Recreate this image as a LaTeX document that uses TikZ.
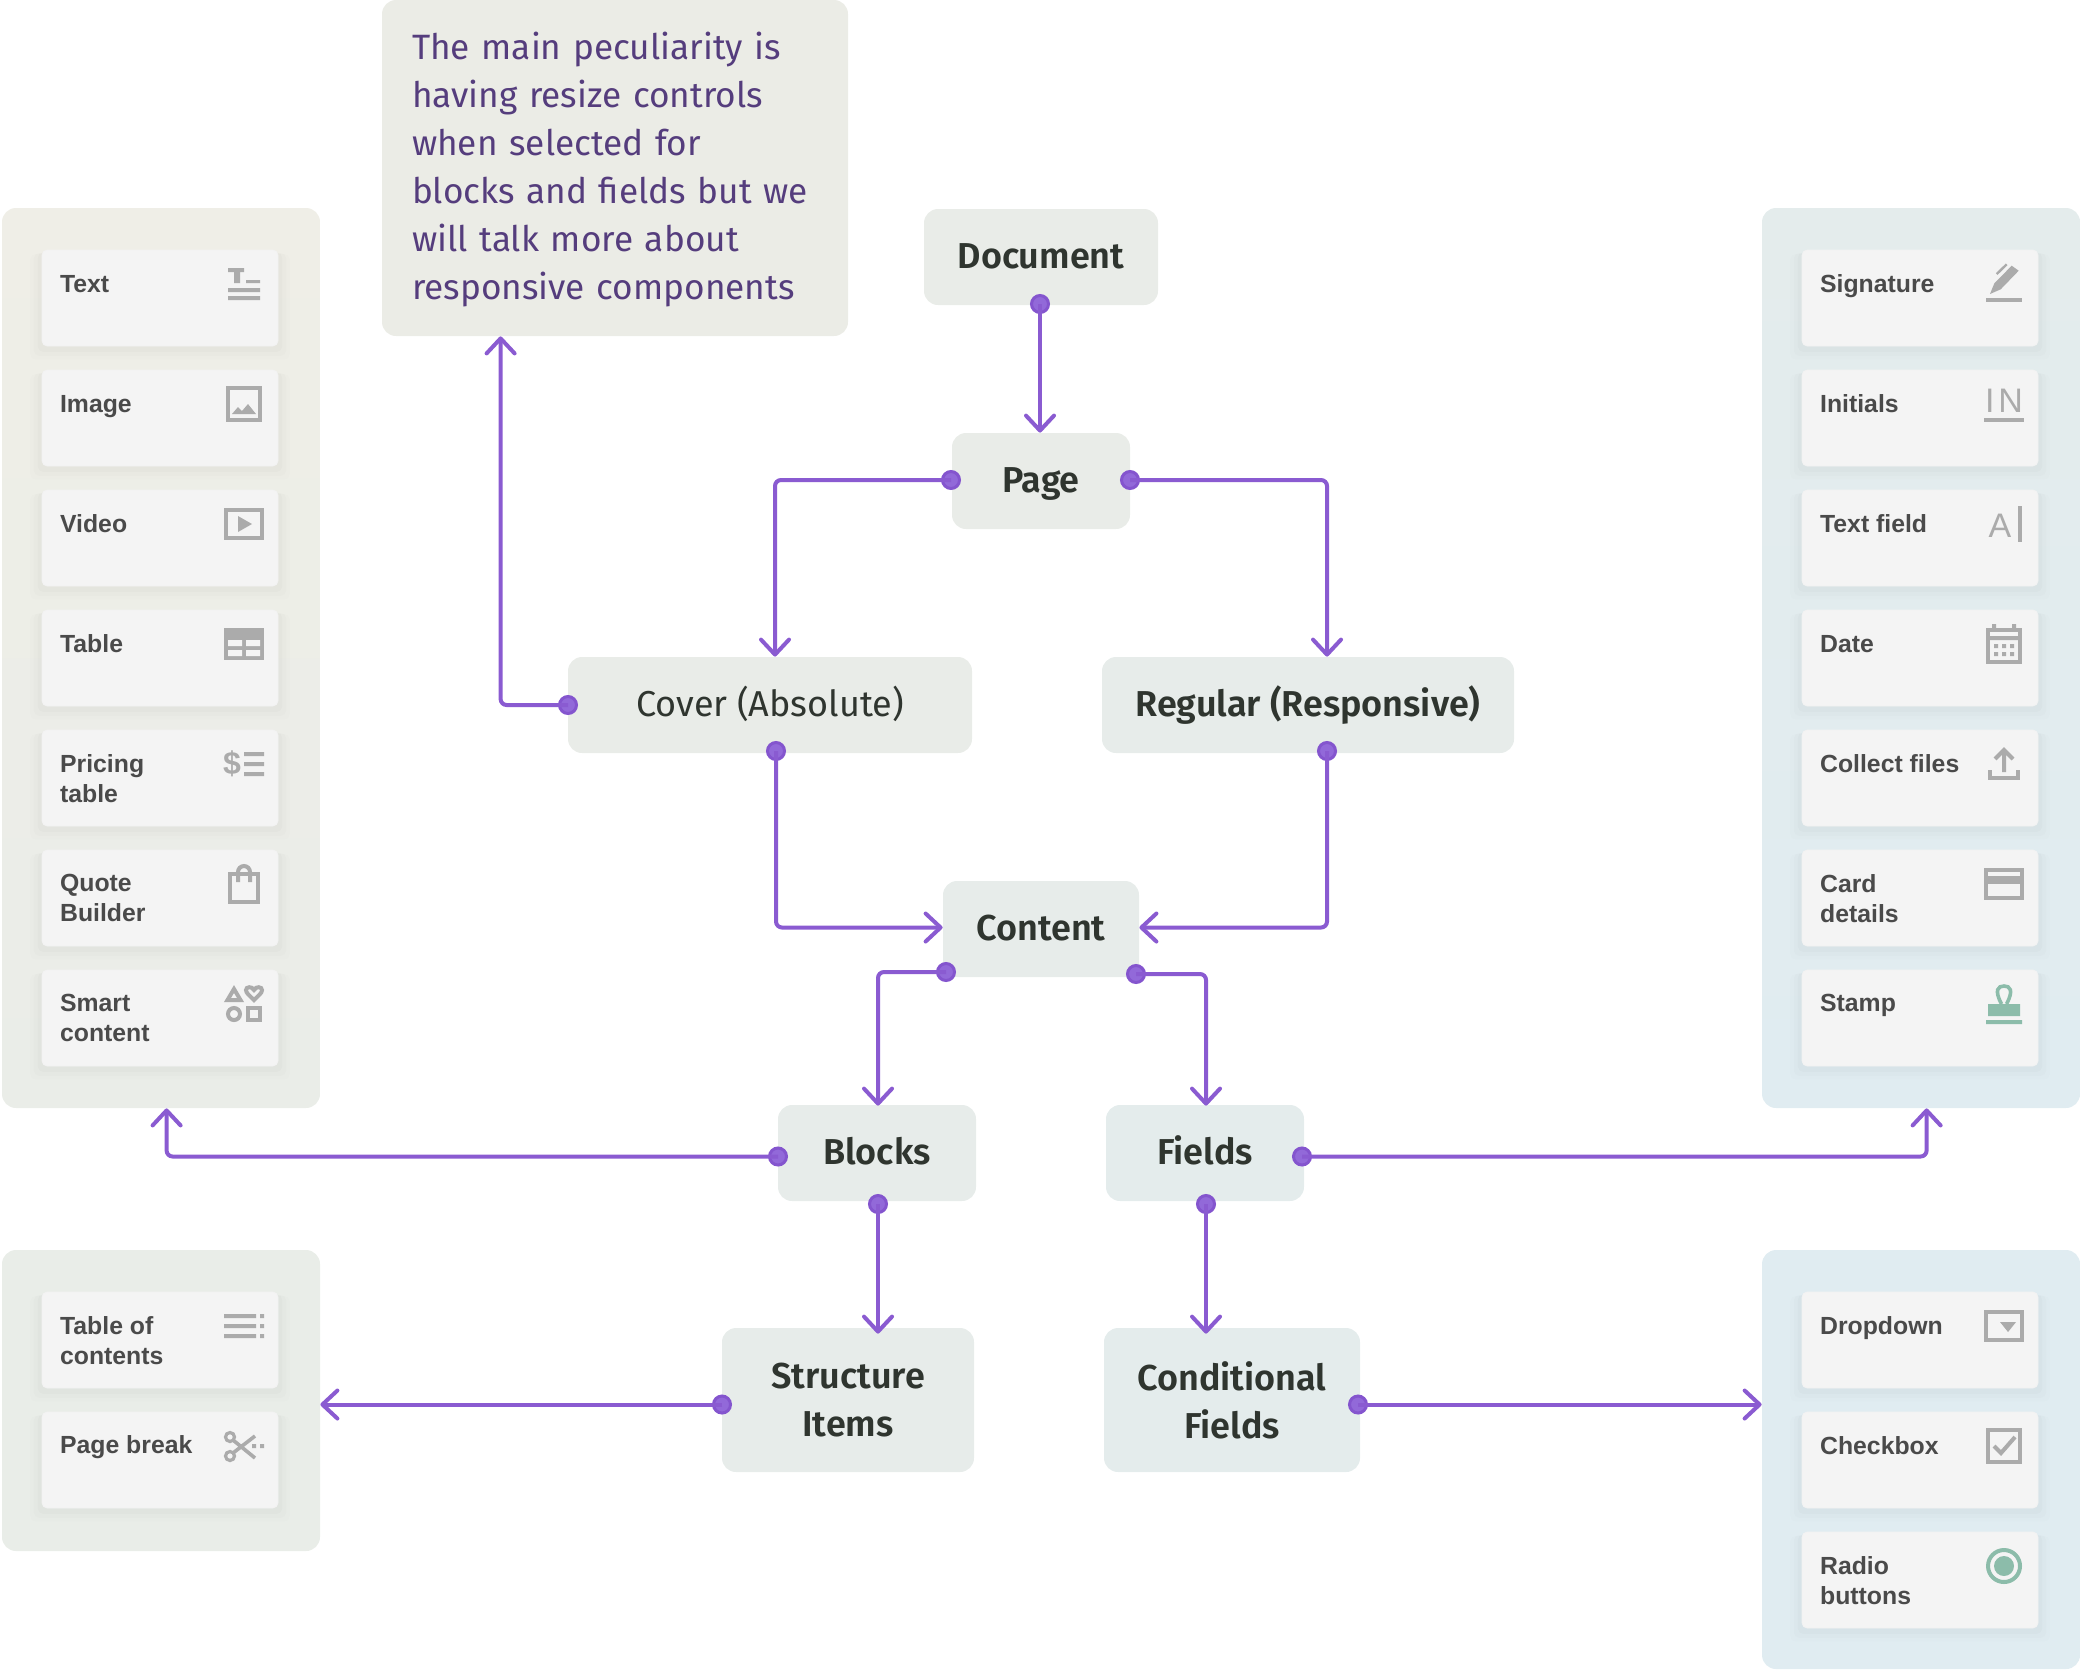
\documentclass[tikz,border=0pt]{standalone}
\usepackage{fontspec}
\setmainfont{Fira Sans}
\newfontfamily\stagefont{Fira Sans SemiBold}
\newfontfamily\cardfont{Liberation Sans}
\usetikzlibrary{arrows.meta, positioning, calc, shadows}
\definecolor{linkcol}{HTML}{8A5BD1}
\definecolor{dotline}{HTML}{8455CE}
\definecolor{dotfill}{HTML}{9269D9}
\definecolor{labelcol}{HTML}{2F352F}
\definecolor{notecol}{HTML}{553D7D}
\definecolor{notefill}{HTML}{EBECE6}
\definecolor{cardcol}{HTML}{F4F4F4}
\definecolor{cardtext}{HTML}{4A4A4A}
\definecolor{iconcol}{HTML}{ABABAB}
\definecolor{stampcol}{HTML}{8CBCAA}
\definecolor{warmtop}{HTML}{EFEEE7}
\definecolor{warmlow}{HTML}{EAEDE8}
\definecolor{warmmid}{HTML}{E9EDE8}
\definecolor{cooltop}{HTML}{E4ECEC}
\definecolor{coollow}{HTML}{E0ECF1}
\definecolor{stagea}{HTML}{E9ECE8}
\definecolor{stageb}{HTML}{E7ECEA}
\definecolor{stagec}{HTML}{E4ECEC}

\begin{document}
\begin{tikzpicture}[
    x=0.5pt, y=-0.5pt,
    panel/.style={rectangle, rounded corners=7pt, minimum width=159pt, inner sep=0pt},
    stage/.style={rectangle, rounded corners=7pt, minimum height=48pt, inner sep=0pt, text=labelcol, align=center, font=\stagefont\fontsize{18}{24}\selectfont},
    single/.style={text height=14.5pt, text depth=3pt},
    card/.style={rectangle, rounded corners=2.5pt, fill=cardcol, draw=black!5, line width=0.3pt, minimum width=118pt, minimum height=48pt, inner sep=0pt,
        general shadow={fill=black, opacity=0.008, shadow yshift=-4pt, shadow scale=1.1},
        general shadow={fill=black, opacity=0.012, shadow yshift=-3pt, shadow scale=1.07},
        general shadow={fill=black, opacity=0.016, shadow yshift=-2pt, shadow scale=1.035}},
    cardlabel/.style={anchor=north west, inner sep=0pt, align=left, text=cardtext, font=\cardfont\bfseries\fontsize{12.4}{15}\selectfont, execute at begin node=\strut},
    twoline/.style={yshift=-1.5pt},
    linkdot/.style={circle, draw=dotline, fill=dotfill, line width=1.5pt, minimum size=8.5pt, inner sep=0pt, outer sep=0pt},
    link/.style={draw=linkcol, line width=2pt, rounded corners=3pt, -{Straight Barb[length=7.5pt, width=14pt, round]}},
    iconline/.style={draw=iconcol, line width=2pt},
    iconfill/.style={fill=iconcol},
    icontext/.style={anchor=base, inner sep=0pt, text=iconcol, font=\cardfont\fontsize{17}{17}\selectfont},
    stampline/.style={draw=stampcol, line width=2pt},
    stampfill/.style={fill=stampcol}
]
\useasboundingbox (0,0) rectangle (2080,1670);

% Panels behind the cards
\node[panel, minimum height=450pt, top color=warmtop, bottom color=warmlow] (blockspanel) at (161,658) {};
\node[panel, minimum height=450pt, top color=cooltop, bottom color=coollow] (fieldspanel) at (1921,658) {};
\node[panel, minimum height=150.5pt, fill=warmmid] (structurepanel) at (161,1400.5) {};
\node[panel, minimum height=209.5pt, fill=coollow] (conditionalpanel) at (1921,1459.5) {};

% Note at the top
\node[rectangle, rounded corners=7pt, fill=notefill, minimum width=233pt, minimum height=168pt, text width=203pt, inner sep=0pt, align=left, text=notecol, font=\fontsize{17.6}{24}\selectfont] (note) at (615,168) {\rule{0pt}{15.6pt}The main peculiarity is\\having resize controls\\when selected for\\blocks and fields but we\\will talk more about\\responsive components};

% Stages in the middle
\node[stage, single, minimum width=117pt, fill=stagea] (document) at (1041,257) {Document};
\node[stage, single, minimum width=89pt, fill=stagea] (page) at (1041,481) {Page};
\node[stage, single, minimum width=202pt, fill=stagea, font=\fontsize{18}{24}\selectfont] (cover) at (770,705) {Cover (Absolute)};
\node[stage, single, minimum width=206pt, fill=stageb] (regular) at (1308,705) {Regular (Responsive)};
\node[stage, single, minimum width=98pt, fill=stageb] (content) at (1041,929) {Content};
\node[stage, single, minimum width=99pt, fill=stageb] (blocks) at (877,1153) {Blocks};
\node[stage, single, minimum width=99pt, fill=stagec] (fields) at (1205,1153) {Fields};
\node[stage, minimum width=126pt, minimum height=72pt, fill=stageb] (structure) at (848,1400) {Structure\\Items};
\node[stage, minimum width=128pt, minimum height=72pt, fill=stagec] (conditional) at (1232,1400) {Conditional\\Fields};

% Dots where the links start
\node[linkdot] (documentsouth) at (1040,304) {};
\node[linkdot] (pagewest) at (951,480) {};
\node[linkdot] (pageeast) at (1130,480) {};
\node[linkdot] (coverwest) at (568,705) {};
\node[linkdot] (coversouth) at (776,751) {};
\node[linkdot] (regularsouth) at (1327,751) {};
\node[linkdot] (contentwest) at (946,972) {};
\node[linkdot] (contenteast) at (1136,974) {};
\node[linkdot] (blockswest) at (778,1156.5) {};
\node[linkdot] (fieldseast) at (1302,1156.5) {};
\node[linkdot] (blockssouth) at (878,1204) {};
\node[linkdot] (fieldssouth) at (1206,1204) {};
\node[linkdot] (structurewest) at (722,1404.5) {};
\node[linkdot] (conditionaleast) at (1358,1404.5) {};

% Links
\draw[link] (documentsouth.center) -- (documentsouth |- page.north);
\draw[link] (pagewest.center) -| ($(coversouth |- cover.north)+(-1,0)$);
\draw[link] (pageeast.center) -| (regularsouth |- regular.north);
\draw[link] (coverwest.center) -| ($(note.south west)+(119,0)$);
\draw[link] (coversouth.center) |- ($(content.west)+(0,-1.5)$);
\draw[link] (regularsouth.center) |- ($(content.east)+(0,-1.5)$);
\draw[link] (contentwest.center) -| ($(blockssouth |- blocks.north)+(0,1)$);
\draw[link] (contenteast.center) -| ($(fieldssouth |- fields.north)+(0,1)$);
\draw[link] (blockswest.center) -| ($(blockspanel.south west)+(165,0)$);
\draw[link] (fieldseast.center) -| ($(fieldspanel.south west)+(165,0)$);
\draw[link] (blockssouth.center) -- ($(blockssouth |- structure.north)+(0,6)$);
\draw[link] (fieldssouth.center) -- ($(fieldssouth |- conditional.north)+(0,6)$);
\draw[link] (structurewest.center) -- (structurewest -| structurepanel.east);
\draw[link] (conditionaleast.center) -- (conditionaleast -| conditionalpanel.west);

% Left column - blocks
\node[card] (textcard) at (160,298) {};
\node[cardlabel] (textlabel) at ($(textcard.north west)+(18,21)$) {Text};
\node[card] (imagecard) at (160,418) {};
\node[cardlabel] (imagelabel) at ($(imagecard.north west)+(18,21)$) {Image};
\node[card] (videocard) at (160,538) {};
\node[cardlabel] (videolabel) at ($(videocard.north west)+(18,21)$) {Video};
\node[card] (tablecard) at (160,658) {};
\node[cardlabel] (tablelabel) at ($(tablecard.north west)+(18,21)$) {Table};
\node[card] (pricingcard) at (160,778) {};
\node[cardlabel, twoline] (pricinglabel) at ($(pricingcard.north west)+(18,21)$) {Pricing\\table};
\node[card] (quotecard) at (160,898) {};
\node[cardlabel, twoline] (quotelabel) at ($(quotecard.north west)+(18,21)$) {Quote\\Builder};
\node[card] (smartcard) at (160,1018) {};
\node[cardlabel, twoline] (smartlabel) at ($(smartcard.north west)+(18,21)$) {Smart\\content};

% Right column - fields
\node[card] (signaturecard) at (1920,298) {};
\node[cardlabel] (signaturelabel) at ($(signaturecard.north west)+(18,21)$) {Signature};
\node[card] (initialscard) at (1920,418) {};
\node[cardlabel] (initialslabel) at ($(initialscard.north west)+(18,21)$) {Initials};
\node[card] (textfieldcard) at (1920,538) {};
\node[cardlabel] (textfieldlabel) at ($(textfieldcard.north west)+(18,21)$) {Text field};
\node[card] (datecard) at (1920,658) {};
\node[cardlabel] (datelabel) at ($(datecard.north west)+(18,21)$) {Date};
\node[card] (filescard) at (1920,778) {};
\node[cardlabel] (fileslabel) at ($(filescard.north west)+(18,21)$) {Collect files};
\node[card] (paycard) at (1920,898) {};
\node[cardlabel, twoline] (paylabel) at ($(paycard.north west)+(18,21)$) {Card\\details};
\node[card] (stampcard) at (1920,1018) {};
\node[cardlabel] (stamplabel) at ($(stampcard.north west)+(18,20)$) {Stamp};

% Lower left and lower right
\node[card] (toccard) at (160,1340) {};
\node[cardlabel, twoline] (toclabel) at ($(toccard.north west)+(18,21)$) {Table of\\contents};
\node[card] (breakcard) at (160,1460) {};
\node[cardlabel] (breaklabel) at ($(breakcard.north west)+(18,20)$) {Page break};
\node[card] (dropdowncard) at (1920,1340) {};
\node[cardlabel] (dropdownlabel) at ($(dropdowncard.north west)+(18,21)$) {Dropdown};
\node[card] (checkboxcard) at (1920,1460) {};
\node[cardlabel] (checkboxlabel) at ($(checkboxcard.north west)+(18,21)$) {Checkbox};
\node[card] (radiocard) at (1920,1580) {};
\node[cardlabel, twoline] (radiolabel) at ($(radiocard.north west)+(18,21)$) {Radio\\buttons};

% Icons, left column
\fill[iconfill] (228,268) rectangle (244,272) (234,272) rectangle (240,283) (246,280) rectangle (260,283);
\fill[iconfill] (228,288) rectangle (260,292) (228,296) rectangle (260,300);
\draw[iconline] (228,388) rectangle (260,420);
\fill[iconfill] (232,414) -- (238,407) -- (242,411) -- (248,404) -- (256,414) -- cycle;
\draw[iconline] (226,510) rectangle (262,538);
\fill[iconfill] (238,516) -- (252,524) -- (238,532) -- cycle;
\fill[iconfill] (224,628) rectangle (264,660);
\fill[cardcol] (228,640) rectangle (242,646) (246,640) rectangle (260,646) (228,650) rectangle (242,656) (246,650) rectangle (260,656);
\node[icontext, font=\cardfont\bfseries\fontsize{16}{16}\selectfont] (dollar) at (232,774) {\$};
\fill[iconfill] (244,752) rectangle (264,756) (244,762) rectangle (264,766) (244,772) rectangle (264,776);
\draw[iconline] (230,874) rectangle (258,902);
\draw[iconline] (238,882) -- (238,872) arc[start angle=180, end angle=360, radius=6] -- (250,882);
\draw[iconline, line join=miter] (234,989) -- (227.5,1000) -- (240.5,1000) -- cycle;
\draw[iconline] (254,1000) .. controls (249,995) and (246,993) .. (246,990) .. controls (246,986.5) and (252,986) .. (254,990) .. controls (256,986) and (262,986.5) .. (262,990) .. controls (262,993) and (259,995) .. (254,1000) -- cycle;
\draw[iconline] (234,1014) circle[radius=6];
\draw[iconline] (248,1008) rectangle (260,1020);

% Icons, right column
\fill[iconfill] (1986,298) rectangle (2022,302);
\fill[iconfill] (1990,294) -- (1994.3,283.3) -- (2011.7,265.7) -- (2018.7,270.7) -- (2000.7,289.3) -- cycle;
\draw[draw=iconcol, line width=1.2pt] (1996.7,274) -- (2006.7,264.3);
\node[icontext] (initialsglyph) at (2004,412) {I\kern2pt N};
\fill[iconfill] (1984,418) rectangle (2024,422);
\node[icontext] (cursorglyph) at (2000,537) {A};
\fill[iconfill] (2018,506) rectangle (2022,542);
\draw[iconline] (1988,630) rectangle (2020,662);
\fill[iconfill] (1992,624) rectangle (1996,630) (2012,624) rectangle (2016,630) (1988,636) rectangle (2020,640);
\fill[iconfill] (1994,644) rectangle (1998,648) (2002,644) rectangle (2006,648) (2010,644) rectangle (2014,648);
\fill[iconfill] (1994,652) rectangle (1998,656) (2002,652) rectangle (2006,656) (2010,652) rectangle (2014,656);
\draw[iconline] (2004,772) -- (2004,751) (1995,759) -- (2004,750) -- (2013,759);
\draw[iconline] (1990,770) -- (1990,778) -- (2018,778) -- (2018,770);
\draw[iconline] (1986,870) rectangle (2022,898);
\fill[iconfill] (1986,876) rectangle (2022,884);
\fill[stampfill] (1986,1020) rectangle (2022,1024) (1988,1004) rectangle (2020,1016);
\draw[stampline, line width=1.8pt] (2001.5,1004) .. controls (1994,990) and (1998,986) .. (2004,986) .. controls (2010,986) and (2014,990) .. (2006.5,1004);

% Icons, lower cards
\fill[iconfill] (224,1314) rectangle (256,1318) (224,1324) rectangle (256,1328) (224,1334) rectangle (256,1338);
\fill[iconfill] (260,1314) rectangle (264,1318) (260,1324) rectangle (264,1328) (260,1334) rectangle (264,1338);
\draw[iconline, line width=1.6pt] (230,1437) circle[radius=4.5] (230,1456) circle[radius=4.5];
\draw[iconline, line width=1.8pt] (233,1440) -- (255,1458) (233,1453) -- (255,1436);
\fill[iconfill] (252,1444) rectangle (256,1448) (260,1444) rectangle (264,1448);
\draw[iconline] (1986,1312) rectangle (2022,1340);
\fill[iconfill] (2000,1322) -- (2016,1322) -- (2008,1332) -- cycle;
\draw[iconline] (1988,1430) rectangle (2020,1462);
\draw[iconline] (1994,1446) -- (2001,1453) -- (2015,1437);
\draw[stampline] (2004,1566) circle[radius=16];
\fill[stampfill] (2004,1566) circle[radius=10];
\end{tikzpicture}
\end{document}
